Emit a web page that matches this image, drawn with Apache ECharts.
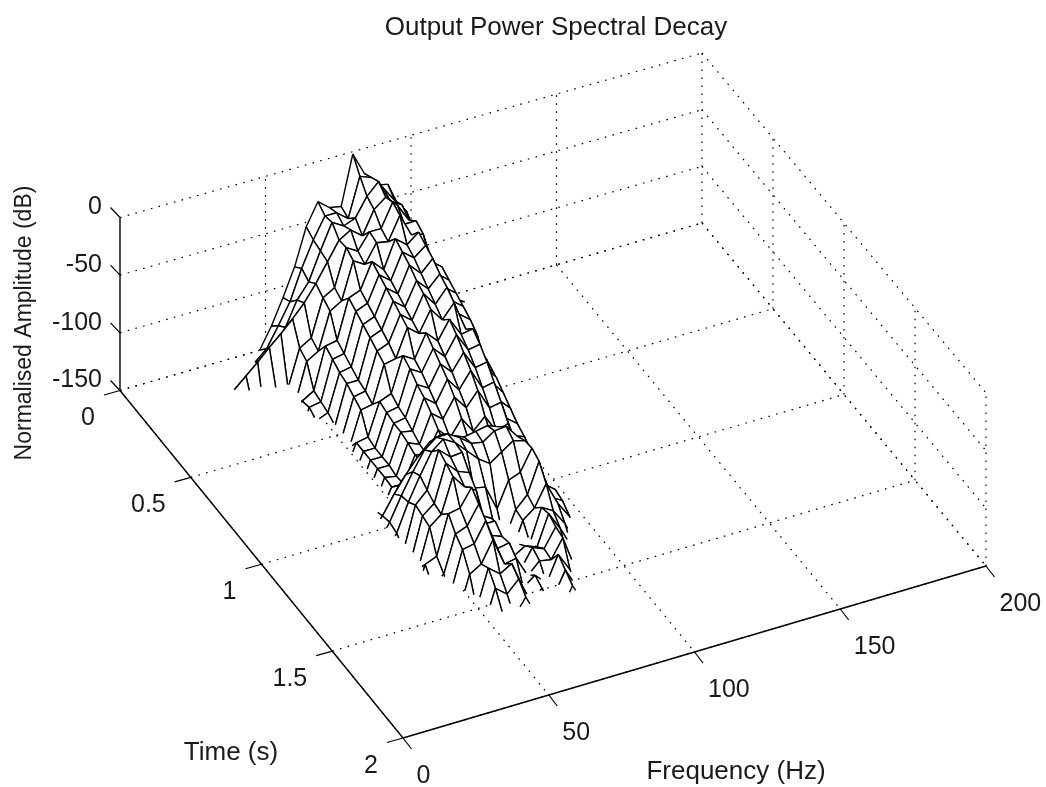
<!DOCTYPE html>
<html><head><meta charset="utf-8">
<style>html,body{margin:0;padding:0;background:#fff}#c{width:1046px;height:787px}</style>
<script src="https://cdn.jsdelivr.net/npm/echarts@6/dist/echarts.min.js"></script>
</head><body><div id="c"></div>
<script>
const chartTitle='Output Power Spectral Decay';
const freqName='Frequency (Hz)', timeName='Time (s)', ampName='Normalised Amplitude (dB)';
const freqTicks=[0,50,100,150,200];
const freqTickLabels=['0','50','100','150','200'];
const timeTicks=[0,0.5,1,1.5,2];
const timeTickLabels=['0','0.5','1','1.5','2'];
const ampTicks=[0,-50,-100,-150];
const ampTickLabels=['0','-50','-100','-150'];
const meshFreqs=[32,36,40,44,48,52,56,60,64,68,72,76,80,84,88,92,96,100,104,108,112,116];
const meshTimes=[0,.05,.1,.15,.2,.25,.3,.35,.4,.45,.5,.55,.6,.65,.7,.75,.8,.85,.9,.95,1,1.05,1.1,1.15,1.2,1.25,1.3,1.35,1.4,1.45,1.5,1.55];
const meshAmps=[
[-190,-180,-170,-160,-150,-132,-110,-86,-54,-35,-43,-45,-2,-22,-35,-37,-60,-90,-114,-134,-148,-165],
[-185,-170,-160,-150,-141,-124,-106,-80,-58,-40,-40,-48,-14,-18,-30,-44,-56,-88,-118,-130,-144,-150],
[-170,-160,-150,-140,-131,-118,-97,-84,-60,-38,-44,-40,-24,-14,-34,-40,-64,-92,-112,-136,-150,-170],
[-150,-141,-132,-122,-113,-103,-92,-78,-62,-46,-40,-48,-28,-20,-30,-46,-62,-96,-120,-132,-152,-175],
[-182,-161,-172,-153,-153,-121,-115,-83,-77,-45,-51,-37,-37,-17,-39,-39,-73,-91,-131,-143,-177,-173],
[-187,-168,-177,-158,-159,-125,-119,-87,-81,-49,-55,-39,-41,-21,-41,-43,-77,-93,-133,-147,-179,-173],
[-178,-187,-165,-175,-149,-143,-107,-105,-71,-67,-45,-55,-31,-39,-31,-59,-67,-109,-123,-159,-168,-192],
[-178,-187,-169,-177,-147,-145,-111,-109,-75,-71,-49,-57,-35,-43,-35,-63,-71,-113,-125,-163,-168,-192],
[-183,-192,-171,-179,-151,-147,-115,-113,-79,-75,-53,-61,-39,-49,-39,-67,-75,-115,-129,-165,-173,-197],
[-183,-192,-173,-179,-153,-151,-117,-117,-83,-79,-57,-65,-45,-55,-45,-71,-79,-119,-131,-167,-173,-197],
[-183,-192,-175,-182,-151,-153,-121,-119,-87,-83,-61,-69,-49,-61,-49,-75,-83,-123,-135,-177,-178,-197],
[-188,-197,-175,-183,-155,-155,-125,-123,-91,-89,-65,-73,-55,-67,-55,-81,-89,-129,-141,-179,-178,-202],
[-202,-183,-192,-169,-167,-143,-141,-113,-109,-79,-85,-65,-75,-59,-75,-73,-109,-121,-159,-168,-197,-188],
[-202,-183,-192,-171,-167,-143,-143,-115,-113,-83,-89,-71,-81,-65,-81,-79,-115,-127,-163,-168,-197,-188],
[-202,-183,-192,-171,-169,-143,-143,-117,-115,-89,-95,-77,-87,-73,-89,-87,-123,-133,-167,-171,-197,-188],
[-202,-183,-192,-173,-167,-143,-143,-117,-119,-93,-101,-83,-95,-81,-99,-97,-131,-139,-169,-173,-197,-188],
[-202,-183,-192,-171,-169,-143,-145,-119,-123,-99,-107,-91,-103,-91,-109,-107,-139,-143,-172,-173,-197,-188],
[-196,-179,-181,-162,-164,-144,-144,-122,-124,-106,-116,-102,-116,-106,-122,-118,-146,-148,-176,-174,-196,-189],
[-190,-170,-170,-151,-153,-135,-137,-119,-125,-113,-123,-113,-125,-117,-131,-131,-151,-155,-177,-177,-195,-190],
[-185,-175,-160,-148,-132,-118,-106,-96,-92,-96,-100,-98,-96,-100,-112,-128,-146,-160,-175,-185,-190,-195],
[-185,-175,-162,-146,-126,-108,-92,-84,-84,-90,-98,-100,-93,-92,-104,-124,-144,-162,-178,-188,-192,-195],
[-188,-178,-164,-148,-124,-104,-86,-78,-84,-94,-104,-111,-104,-97,-100,-122,-146,-165,-180,-190,-195,-195],
[-183,-187,-158,-155,-119,-109,-77,-86,-85,-119,-121,-143,-121,-117,-99,-133,-141,-175,-175,-197,-188,-202],
[-183,-189,-161,-157,-121,-113,-81,-91,-95,-135,-141,-163,-139,-129,-103,-137,-143,-179,-178,-199,-188,-202],
[-185,-192,-163,-157,-123,-115,-85,-97,-103,-143,-149,-167,-141,-133,-115,-135,-149,-183,-181,-202,-188,-202],
[-202,-178,-179,-145,-141,-107,-105,-90,-125,-125,-157,-151,-153,-125,-131,-145,-167,-173,-197,-188,-202,-188],
[-202,-181,-183,-155,-149,-117,-113,-97,-127,-131,-151,-145,-149,-123,-139,-158,-175,-177,-199,-188,-202,-188],
[-202,-183,-187,-161,-157,-123,-121,-104,-131,-129,-155,-139,-143,-127,-156,-165,-179,-181,-202,-188,-202,-188],
[-202,-185,-191,-165,-169,-137,-131,-113,-137,-135,-153,-143,-145,-129,-157,-168,-185,-183,-202,-188,-202,-188],
[-188,-202,-181,-183,-161,-159,-127,-135,-129,-153,-145,-155,-133,-149,-165,-175,-175,-199,-188,-202,-188,-202],
[-188,-202,-183,-187,-165,-167,-137,-145,-135,-157,-149,-159,-139,-157,-170,-179,-178,-202,-188,-202,-188,-202],
[-188,-202,-185,-192,-169,-175,-151,-157,-143,-163,-155,-165,-145,-163,-172,-182,-181,-202,-188,-202,-188,-202]
];

const FMAX=200,TMAX=2,ZMIN=-150,ZMAX=0;
const A=[120,390.5],B=[702,223],C=[986,566],D=[403,738];
function proj(f,t,z){
  const a=f/FMAX,b=t/TMAX;
  const w=[(1-a)*(1-b),a*(1-b),a*b,(1-a)*b];
  const x=A[0]*w[0]+B[0]*w[1]+C[0]*w[2]+D[0]*w[3];
  const y=A[1]*w[0]+B[1]*w[1]+C[1]*w[2]+D[1]*w[3];
  return [x,y-(z-ZMIN)/(ZMAX-ZMIN)*(173-3*a*(1-b))];
}
function cut(p,q){const s=(ZMIN-p[2])/(q[2]-p[2]);return [p[0]+(q[0]-p[0])*s,p[1]+(q[1]-p[1])*s,ZMIN];}
function clipSeg(p,q){
  if(p[2]<ZMIN&&q[2]<ZMIN)return null;
  if(p[2]<ZMIN)return [cut(p,q),q];
  if(q[2]<ZMIN)return [p,cut(p,q)];
  return [p,q];
}
function clipPoly(v){
  const o=[];
  for(let i=0;i<v.length;i++){
    const p=v[i],q=v[(i+1)%v.length];
    if(p[2]>=ZMIN)o.push(p);
    if((p[2]<ZMIN)!==(q[2]<ZMIN))o.push(cut(p,q));
  }
  return o;
}
const dotted=[];
freqTicks.forEach(f=>{
  dotted.push([f,0,ZMIN,f,TMAX,ZMIN]);
  if(f>0)dotted.push([f,0,ZMIN,f,0,ZMAX]);
});
timeTicks.forEach(t=>{
  dotted.push([0,t,ZMIN,FMAX,t,ZMIN]);
  if(t>0)dotted.push([FMAX,t,ZMIN,FMAX,t,ZMAX]);
});
ampTicks.forEach(z=>{
  dotted.push([0,0,z,FMAX,0,z]);
  dotted.push([FMAX,0,z,FMAX,TMAX,z]);
});
const solid=[[0,0,ZMIN,0,0,ZMAX],[0,0,ZMIN,0,TMAX,ZMIN],[0,TMAX,ZMIN,FMAX,TMAX,ZMIN]];
const ticks=[];
ampTicks.forEach(z=>ticks.push({p:[0,0,z],d:[-9.5,-10]}));
timeTicks.forEach(t=>ticks.push({p:[0,t,ZMIN],d:[-16,4.5]}));
freqTicks.forEach(f=>ticks.push({p:[f,TMAX,ZMIN],d:[8.5,11]}));
const cells=[];
for(let k=0;k<meshTimes.length-1;k++)for(let i=meshFreqs.length-2;i>=0;i--)cells.push([i,k]);

const font='"Liberation Sans", Arial, sans-serif', INK='#1a1a1a';
const labels=[];
ampTicks.forEach((z,i)=>{const p=proj(0,0,z);labels.push({x:102,y:p[1]-10,t:ampTickLabels[i],a:'right',s:25});});
timeTicks.forEach((t,i)=>{const p=proj(0,t,ZMIN);labels.push({x:p[0]-25,y:p[1]+28,t:timeTickLabels[i],a:'right',s:25});});
freqTicks.forEach((f,i)=>{const p=proj(f,TMAX,ZMIN);labels.push({x:p[0]+13.5,y:p[1]+38,t:freqTickLabels[i],a:'left',s:25});});
labels.push({x:736,y:772,t:freqName,a:'center',s:26});
labels.push({x:231,y:753,t:timeName,a:'center',s:26});
labels.push({x:25,y:323,t:ampName,a:'center',r:Math.PI/2,s:23});

const chart=echarts.init(document.getElementById('c'),null,{renderer:'canvas'});
chart.setOption({
  animation:false,
  backgroundColor:'#fff',
  title:{text:chartTitle,left:551,top:10,textAlign:'center',textStyle:{fontFamily:font,fontSize:26,fontWeight:'normal',color:INK}},
  grid:{left:0,right:0,top:0,bottom:0},
  xAxis:{type:'value',min:0,max:1046,show:false},
  yAxis:{type:'value',min:0,max:787,inverse:true,show:false},
  series:[
   {type:'custom',coordinateSystem:'cartesian2d',silent:true,clip:false,z:1,data:dotted.map((d,i)=>[i]),
    renderItem(p,api){const d=dotted[api.value(0)];
      const a=api.coord(proj(d[0],d[1],d[2])),b=api.coord(proj(d[3],d[4],d[5]));
      return {type:'line',shape:{x1:a[0],y1:a[1],x2:b[0],y2:b[1]},style:{stroke:'#000',lineWidth:1.2,lineDash:[1.6,6.4],fill:null}};}},
   {type:'custom',coordinateSystem:'cartesian2d',silent:true,clip:false,z:2,data:cells,
    renderItem(p,api){const i=api.value(0),k=api.value(1);
      const f0=meshFreqs[i],f1=meshFreqs[i+1],t0=meshTimes[k],t1=meshTimes[k+1];
      const v=[[f0,t0,meshAmps[k][i]],[f1,t0,meshAmps[k][i+1]],[f1,t1,meshAmps[k+1][i+1]],[f0,t1,meshAmps[k+1][i]]];
      const children=[];
      const poly=clipPoly(v);
      if(poly.length>2)children.push({type:'polygon',shape:{points:poly.map(q=>api.coord(proj(q[0],q[1],q[2])))},style:{fill:'#fff',stroke:null}});
      for(let e=0;e<4;e++){const s=clipSeg(v[e],v[(e+1)%4]);
        if(s){const a=api.coord(proj(s[0][0],s[0][1],s[0][2])),b=api.coord(proj(s[1][0],s[1][1],s[1][2]));
          children.push({type:'line',shape:{x1:a[0],y1:a[1],x2:b[0],y2:b[1]},style:{stroke:'#000',lineWidth:1.4,fill:null}});}
      }
      return {type:'group',children};}},
   {type:'custom',coordinateSystem:'cartesian2d',silent:true,clip:false,z:3,data:solid.map((d,i)=>[i]),
    renderItem(p,api){const d=solid[api.value(0)];
      const a=api.coord(proj(d[0],d[1],d[2])),b=api.coord(proj(d[3],d[4],d[5]));
      return {type:'line',shape:{x1:a[0],y1:a[1],x2:b[0],y2:b[1]},style:{stroke:'#000',lineWidth:1.4,fill:null}};}},
   {type:'custom',coordinateSystem:'cartesian2d',silent:true,clip:false,z:3,data:ticks.map((d,i)=>[i]),
    renderItem(p,api){const d=ticks[api.value(0)];
      const a=proj(d.p[0],d.p[1],d.p[2]);const s=api.coord(a),e=api.coord([a[0]+d.d[0],a[1]+d.d[1]]);
      return {type:'line',shape:{x1:s[0],y1:s[1],x2:e[0],y2:e[1]},style:{stroke:'#000',lineWidth:1.2,fill:null}};}},
   {type:'custom',coordinateSystem:'cartesian2d',silent:true,clip:false,z:4,data:labels.map((d,i)=>[i]),
    renderItem(p,api){const d=labels[api.value(0)];const c=api.coord([d.x,d.y]);
      return {type:'text',x:c[0],y:c[1],rotation:d.r||0,originX:0,originY:0,
        style:{text:d.t,textAlign:d.a,textVerticalAlign:'middle',fontFamily:font,fontSize:d.s,fill:INK}};}}
  ]
});
</script></body></html>
